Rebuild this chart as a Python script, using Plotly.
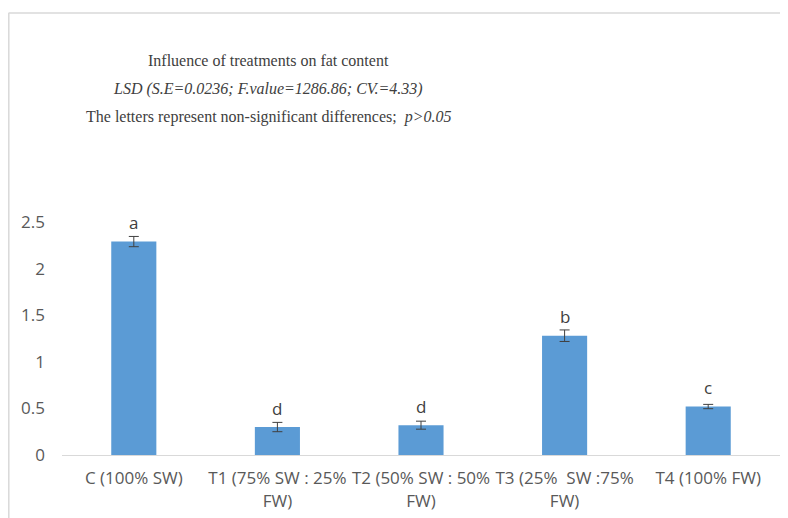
import plotly.graph_objects as go

categories = ["C (100% SW)", "T1 (75% SW : 25%<br>FW)", "T2 (50% SW : 50%<br>FW)",
              "T3 (25%  SW :75%<br>FW)", "T4 (100% FW)"]
fat_values = [2.29, 0.30, 0.32, 1.28, 0.52]
fat_errors = [0.055, 0.05, 0.043, 0.062, 0.023]
letters = ["a", "d", "d", "b", "c"]
y_ticks = [0, 0.5, 1, 1.5, 2, 2.5]
y_tick_labels = ["0", "0.5", "1", "1.5", "2", "2.5"]

title_lines = [
    "Influence of treatments on fat content",
    "<i>LSD (S.E=0.0236; F.value=1286.86; CV.=4.33)</i>",
    "The letters represent non-significant differences;  <i>p>0.05</i>",
]

fig = go.Figure()
fig.add_trace(go.Bar(
    x=categories, y=fat_values,
    marker=dict(color="#5B9BD5", line=dict(width=0)),
    error_y=dict(type="data", array=fat_errors, visible=True,
                 color="#404040", thickness=1, width=5),
    hoverinfo="x+y",
))

for c, v, l in zip(categories, fat_values, letters):
    fig.add_annotation(x=c, y=v, text=l, showarrow=False, yanchor="middle",
                       yshift=19, font=dict(family="Open Sans", size=17, color="#404040"))

# page has an 8px body margin; figure coordinates = page coordinates - 8
OFF = 8
W, H = 780, 510
L, T = 62 - OFF, 222 - OFF
R = W - (780 - OFF)
B = H - (455 - OFF)
pw, ph = W - L - R, H - T - B
def px_x(x):
    return (x - OFF - L) / pw
def px_y(y):
    return (H - B - (y - OFF)) / ph

title_y = [60, 89, 117]
for txt, yy in zip(title_lines, title_y):
    fig.add_annotation(xref="paper", yref="paper", x=px_x(268), y=px_y(yy),
                       text=txt, showarrow=False, xanchor="center", yanchor="middle",
                       font=dict(family="Liberation Serif", size=16, color="#404040"))

# chart frame
fig.add_shape(type="line", xref="paper", yref="paper", x0=px_x(8.5), x1=px_x(800),
              y0=px_y(13), y1=px_y(13), line=dict(color="#D9D9D9", width=1.5))
fig.add_shape(type="line", xref="paper", yref="paper", x0=px_x(8.8), x1=px_x(8.8),
              y0=px_y(13), y1=px_y(530), line=dict(color="#D9D9D9", width=1.5))

fig.update_layout(
    width=W, height=H,
    margin=dict(l=L, r=R, t=T, b=B, pad=0, autoexpand=False),
    paper_bgcolor="white", plot_bgcolor="white",
    bargap=0.686,
    showlegend=False,
    font=dict(family="Open Sans", size=17, color="#595959"),
)
fig.update_xaxes(tickangle=0, showline=True, linecolor="#D9D9D9", linewidth=1,
                 ticks="", showgrid=False, automargin=False, ticklabelstandoff=8,
                 tickfont=dict(size=17, color="#595959"))
fig.update_yaxes(range=[0, 2.5], tickvals=y_ticks, ticktext=y_tick_labels,
                 showgrid=False, zeroline=False, showline=False, ticks="",
                 automargin=False, ticklabelstandoff=16,
                 tickfont=dict(size=17, color="#595959"))

fig.write_html("out.html")
